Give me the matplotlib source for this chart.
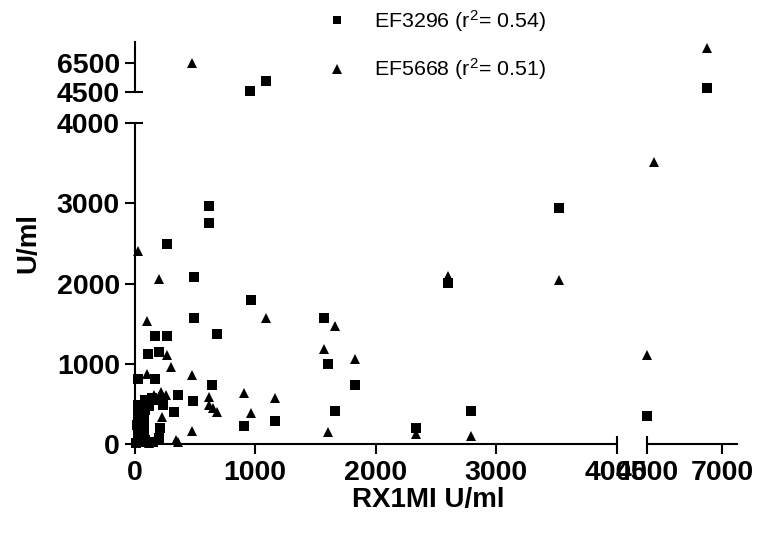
import matplotlib
matplotlib.use("Agg")
import matplotlib.pyplot as plt
import numpy as np
from matplotlib.lines import Line2D

# ---------------- data ----------------
ef3296_x = [4500, 6500, 961, 1094, 618, 618, 271, 491, 969, 491, 171, 271, 685, 207, 108,
            25, 171, 645, 360, 485, 908, 1162, 325, 1571, 1607, 1829, 1668, 2339, 2791,
            2600, 3520,
            25, 30, 20, 30, 15, 90, 145, 195, 237, 85, 80, 75, 90, 150, 200, 215, 120, 60]
ef3296_y = [350, 4760, 4550, 5250, 2970, 2750, 2490, 2080, 1795, 1575, 1340, 1340, 1375, 1151, 1118,
            807, 807, 740, 605, 540, 228, 287, 395, 1567, 993, 730, 410, 195, 410,
            2011, 2943,
            485, 360, 235, 110, 10, 548, 573, 548, 486, 420, 300, 170, 50, 25, 75, 200, 470, 20]

ef5668_x = [6500, 478, 4733, 4500, 3520, 2600, 25, 204, 105, 1088, 1668, 271, 1571, 301, 105,
            480, 908, 1162, 1829, 616, 616, 652, 685, 969, 480, 1607, 2339, 2791, 342, 362,
            232, 204, 158, 220, 260,
            60, 45, 90, 10, 120, 170, 30, 110]
ef5668_y = [7580, 6520, 3516, 1110, 2040, 2095, 2400, 2050, 1530, 1575, 1470, 1110, 1180, 956, 870,
            865, 632, 577, 1055, 582, 486, 452, 403, 383, 165, 153, 120, 100, 50, 20,
            340, 91, 615, 645, 610,
            150, 260, 80, 40, 10, 60, 180, 30]

series_labels = [r"EF3296 (r$^{\mathrm{2}}$= 0.54)", r"EF5668 (r$^{\mathrm{2}}$= 0.51)"]
x_label = "RX1MI U/ml"
y_label = "U/ml"

x_ticks_low = [0, 1000, 2000, 3000, 4000]
x_ticks_high = [4500, 7000]
y_ticks_low = [0, 1000, 2000, 3000, 4000]
y_ticks_high = [4500, 6500]

x_low_lim = (0, 4000)
x_high_lim = (4500, 7500)
y_low_lim = (0, 4000)
y_high_lim = (4500, 8000)

# ---------------- style ----------------
plt.rcParams['font.family'] = ['Liberation Sans', 'DejaVu Sans']
plt.rcParams['mathtext.fontset'] = 'custom'
plt.rcParams['mathtext.rm'] = 'Liberation Sans'
plt.rcParams['mathtext.it'] = 'Liberation Sans:italic'
plt.rcParams['mathtext.bf'] = 'Liberation Sans:bold'

W, H = 758, 548
fig = plt.figure(figsize=(W / 100, H / 100), dpi=100)


def rect(l, r, t, b):
    return [l / W, 1 - b / H, (r - l) / W, (b - t) / H]


x_left, x_brk_l, x_brk_r, x_right = 134.5, 616.5, 647, 737
y_top, y_brk_t, y_brk_b, y_bot = 42, 91.7, 123, 444

ax_ll = fig.add_axes(rect(x_left, x_brk_l, y_brk_b, y_bot))
ax_lr = fig.add_axes(rect(x_brk_r, x_right, y_brk_b, y_bot))
ax_ul = fig.add_axes(rect(x_left, x_brk_l, y_top, y_brk_t))
ax_ur = fig.add_axes(rect(x_brk_r, x_right, y_top, y_brk_t))

LW = 1.5
TICK_FS = 20.5
for ax in (ax_ll, ax_lr, ax_ul, ax_ur):
    for s in ax.spines.values():
        s.set_visible(False)
        s.set_linewidth(LW)
    ax.patch.set_alpha(0)
    ax.set_xticks([])
    ax.set_yticks([])

ax_ll.set_xlim(*x_low_lim); ax_ll.set_ylim(*y_low_lim)
ax_lr.set_xlim(*x_high_lim); ax_lr.set_ylim(*y_low_lim)
ax_ul.set_xlim(*x_low_lim); ax_ul.set_ylim(*y_high_lim)
ax_ur.set_xlim(*x_high_lim); ax_ur.set_ylim(*y_high_lim)

tick_kw = dict(direction='out', length=7.5, width=LW, labelsize=TICK_FS)
minor_kw = dict(direction='in', length=6, width=LW)

# lower-left: both axes
ax_ll.spines['left'].set_visible(True)
ax_ll.spines['bottom'].set_visible(True)
ax_ll.set_xticks(x_ticks_low)
ax_ll.set_yticks(y_ticks_low)
ax_ll.set_xticks([x_low_lim[1]], minor=True)
ax_ll.set_yticks([y_low_lim[1]], minor=True)
ax_ll.xaxis.remove_overlapping_locs = False
ax_ll.yaxis.remove_overlapping_locs = False
ax_ll.tick_params(axis='x', which='major', pad=4, **tick_kw)
ax_ll.tick_params(axis='y', which='major', pad=3, **tick_kw)
ax_ll.tick_params(which='minor', **minor_kw)

# lower-right: bottom only
ax_lr.spines['bottom'].set_visible(True)
ax_lr.set_xticks(x_ticks_high)
ax_lr.set_xticks([x_high_lim[0]], minor=True)
ax_lr.xaxis.remove_overlapping_locs = False
ax_lr.tick_params(axis='x', which='major', pad=4, **tick_kw)
ax_lr.tick_params(axis='x', which='minor', **minor_kw)

# upper-left: left only
ax_ul.spines['left'].set_visible(True)
ax_ul.set_yticks(y_ticks_high)
ax_ul.set_yticks([y_high_lim[0]], minor=True)
ax_ul.yaxis.remove_overlapping_locs = False
ax_ul.tick_params(axis='y', which='major', pad=3, **tick_kw)
ax_ul.tick_params(axis='y', which='minor', **minor_kw)

for ax in (ax_ll, ax_lr, ax_ul):
    for lab in ax.get_xticklabels() + ax.get_yticklabels():
        lab.set_fontweight('bold')

# ---------------- points ----------------
sx, sy = np.array(ef3296_x, float), np.array(ef3296_y, float)
tx, ty = np.array(ef5668_x, float), np.array(ef5668_y, float)

panels = [
    (ax_ll, x_low_lim, y_low_lim),
    (ax_lr, x_high_lim, y_low_lim),
    (ax_ul, x_low_lim, y_high_lim),
    (ax_ur, x_high_lim, y_high_lim),
]
for ax, xl, yl in panels:
    for xs, ys, mk, ms in ((sx, sy, 's', 6.5), (tx, ty, '^', 7.5)):
        m = (xs >= xl[0]) & (xs <= xl[1]) & (ys >= yl[0]) & (ys <= yl[1])
        ax.plot(xs[m], ys[m], linestyle='none', marker=mk, markersize=ms,
                color='black', markeredgewidth=0, clip_on=False)

# ---------------- labels ----------------
fig.text(428 / W, 1 - 500 / H, x_label, ha='center', va='center',
         fontsize=20, fontweight='bold')
fig.text(28 / W, 1 - 243 / H, y_label, ha='center', va='center',
         rotation=90, fontsize=20, fontweight='bold')

leg_handles = [Line2D([], [], linestyle='none', marker='s', markersize=5.5, color='black', markeredgewidth=0),
               Line2D([], [], linestyle='none', marker='^', markersize=6.5, color='black', markeredgewidth=0)]
fig.legend(leg_handles, series_labels, loc='upper left',
           bbox_to_anchor=(326 / W, 1 - 8 / H), frameon=False,
           fontsize=15.4, handlelength=1.0, handletextpad=1.26,
           labelspacing=1.05, borderpad=0, borderaxespad=0)

fig.savefig("out.png", dpi=100)
